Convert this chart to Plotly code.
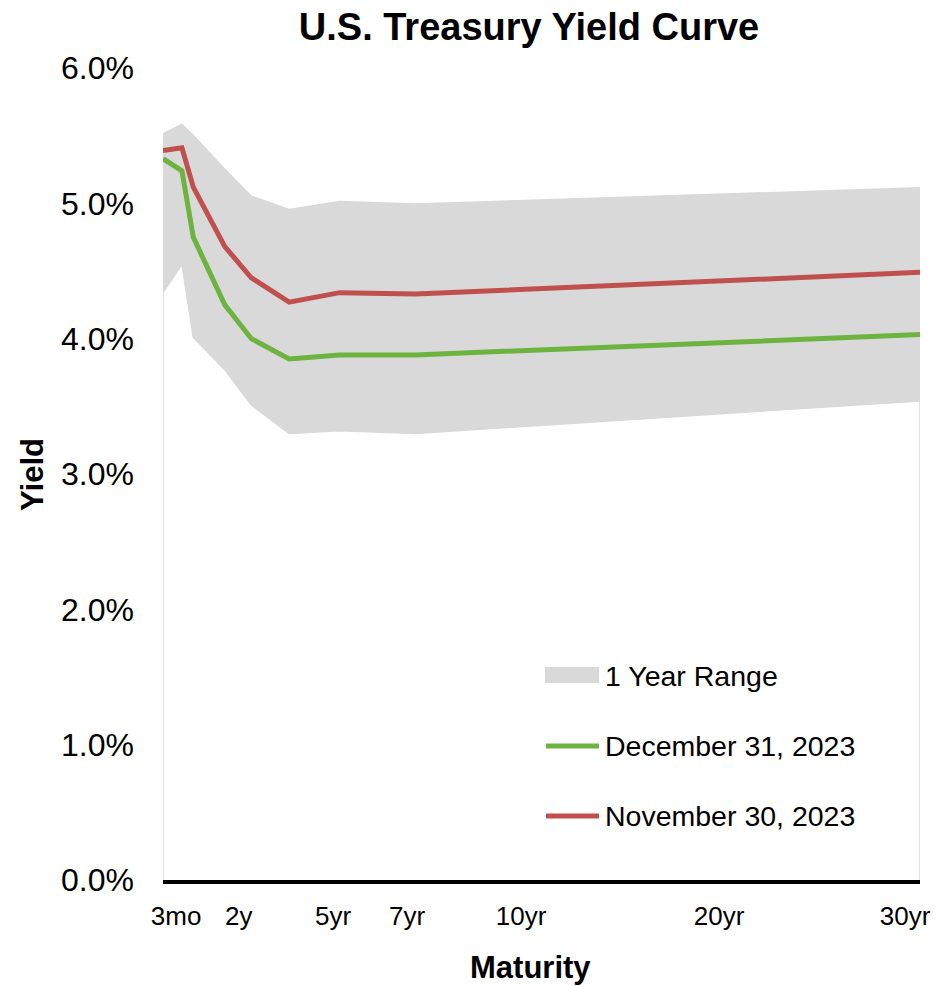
import plotly.graph_objects as go

# ---- data ----
maturity_years = [0.0, 0.75, 1.2, 2.45, 3.5, 5.0, 7.0, 10.0, 30.0]
range_high = [5.52, 5.59, 5.51, 5.26, 5.06, 4.96, 5.02, 5.00, 5.12]
range_low = [4.34, 4.55, 4.01, 3.77, 3.51, 3.30, 3.32, 3.30, 3.54]
dec_31_2023 = [5.33, 5.24, 4.75, 4.25, 4.00, 3.85, 3.88, 3.88, 4.03]
nov_30_2023 = [5.39, 5.41, 5.12, 4.68, 4.45, 4.27, 4.34, 4.33, 4.49]

x_tick_labels = ["3mo", "2y", "5yr", "7yr", "10yr", "20yr", "30yr"]
y_tick_values = [0, 1, 2, 3, 4, 5, 6]
legend_names = ["1 Year Range", "December 31, 2023", "November 30, 2023"]

# ---- styling ----
FONT = "Arial, Liberation Sans, sans-serif"
GREY = "#D9D9D9"
GREEN = "#6DB33F"
RED = "#C0504D"
LW = 5

W, H = 939, 986
L, R, T, B = 163, 19, 68, 106
PW, PH = W - L - R, H - T - B

# positions of the (text-box style) maturity labels, in axis units
x_tick_positions = [0.52, 3.0, 6.74, 9.67, 14.19, 22.04, 29.41]


def px_x(px):
    return (px - L) / PW


def px_y(py):
    return (H - B - py) / PH


fig = go.Figure()

# light outline of the lower (white) area
fig.add_trace(go.Scatter(
    x=[maturity_years[0]] + maturity_years + [maturity_years[-1]],
    y=[0] + range_low + [0],
    mode="lines", line=dict(color=GREY, width=1.5),
    hoverinfo="skip", showlegend=False))

fig.add_trace(go.Scatter(
    x=maturity_years, y=range_high, mode="lines",
    line=dict(width=0, color=GREY), showlegend=False, hoverinfo="skip"))
fig.add_trace(go.Scatter(
    x=maturity_years, y=range_low, mode="lines", fill="tonexty",
    fillcolor=GREY, line=dict(width=0, color=GREY),
    name=legend_names[0], showlegend=False))

fig.add_trace(go.Scatter(
    x=maturity_years, y=dec_31_2023, mode="lines",
    line=dict(color=GREEN, width=LW), name=legend_names[1], showlegend=False))
fig.add_trace(go.Scatter(
    x=maturity_years, y=nov_30_2023, mode="lines",
    line=dict(color=RED, width=LW), name=legend_names[2], showlegend=False))

# ---- custom legend ----
shapes = [
    dict(type="rect", xref="paper", yref="paper",
         x0=px_x(545), x1=px_x(599), y0=px_y(683), y1=px_y(667),
         fillcolor=GREY, line=dict(width=0)),
    dict(type="line", xref="paper", yref="paper",
         x0=px_x(546), x1=px_x(599), y0=px_y(746), y1=px_y(746),
         line=dict(color=GREEN, width=LW)),
    dict(type="line", xref="paper", yref="paper",
         x0=px_x(546), x1=px_x(599), y0=px_y(816), y1=px_y(816),
         line=dict(color=RED, width=LW)),
]
annotations = []
for name, ypx in zip(legend_names, [676, 746, 816]):
    annotations.append(dict(
        text=name, xref="paper", yref="paper", x=px_x(603), y=px_y(ypx),
        xanchor="left", yanchor="middle", showarrow=False,
        font=dict(family=FONT, size=28.5, color="black")))

annotations.append(dict(
    text="<b>Yield</b>", xref="paper", yref="paper", x=px_x(32), y=px_y(475),
    xanchor="center", yanchor="middle", textangle=-90, showarrow=False,
    font=dict(family=FONT, size=31, color="black")))
annotations.append(dict(
    text="<b>Maturity</b>", xref="paper", yref="paper", x=px_x(530), y=px_y(967),
    xanchor="center", yanchor="middle", showarrow=False,
    font=dict(family=FONT, size=31, color="black")))

fig.update_layout(
    width=W, height=H,
    margin=dict(l=L, r=R, t=T, b=B, autoexpand=False),
    paper_bgcolor="white", plot_bgcolor="white",
    title=dict(text="<b>U.S. Treasury Yield Curve</b>",
               xref="container", yref="container",
               x=529 / W, y=1 - 27 / H, xanchor="center", yanchor="middle",
               font=dict(family=FONT, size=38, color="black")),
    showlegend=False,
    shapes=shapes,
    annotations=annotations,
)

fig.update_xaxes(
    range=[0, 30], showgrid=False, zeroline=False,
    showline=True, linecolor="black", linewidth=4,
    tickmode="array", tickvals=x_tick_positions, ticktext=x_tick_labels,
    ticks="", ticklabelstandoff=10,
    tickfont=dict(family=FONT, size=26, color="black"))

fig.update_yaxes(
    range=[0, 6], showgrid=False, zeroline=False, showline=False,
    tickmode="array", tickvals=y_tick_values,
    ticktext=[f"{v:.1f}%" for v in y_tick_values],
    ticks="", ticklabelstandoff=28,
    tickfont=dict(family=FONT, size=32, color="black"))

fig.write_html("out.html", config={"displayModeBar": False},
               post_script="document.body.style.margin='0px';")
